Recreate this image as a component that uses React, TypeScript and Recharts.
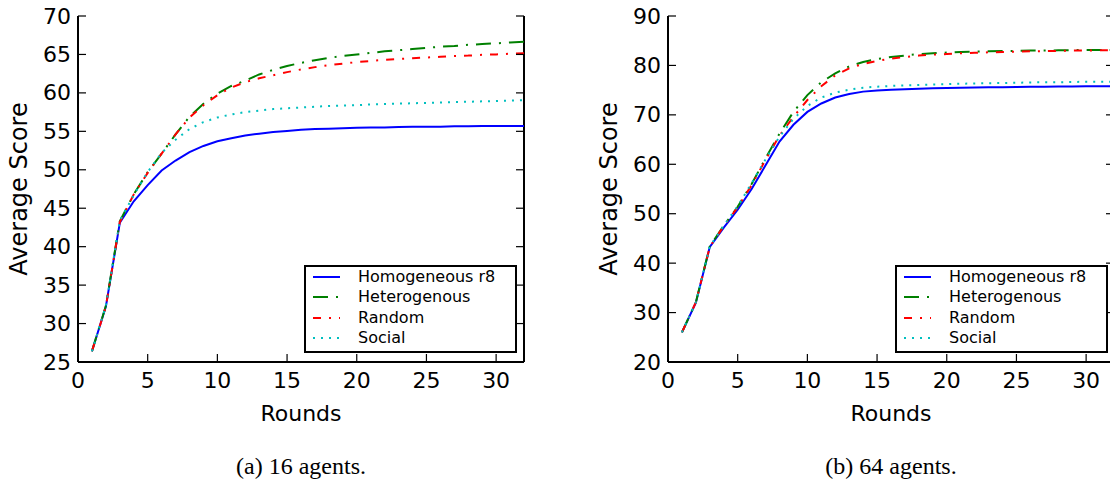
import React from "react";
import { LineChart, Line, XAxis, YAxis, Legend, ReferenceLine } from "recharts";

// rounds on the x axis
const rounds = [1, 2, 3, 4, 5, 6, 7, 8, 9, 10, 11, 12, 13, 14, 15, 16, 17, 18, 19, 20, 21, 22, 23, 24, 25, 26, 27, 28, 29, 30, 31, 32];

// (a) 16 agents
const homo16 = [26.4, 32.2, 43.1, 45.9, 48.0, 49.9, 51.2, 52.3, 53.1, 53.7, 54.1, 54.45, 54.7, 54.9, 55.05, 55.2, 55.3, 55.35, 55.4, 55.45, 55.5, 55.5, 55.55, 55.6, 55.6, 55.6, 55.65, 55.65, 55.7, 55.7, 55.7, 55.7];
const hetero16 = [26.4, 32.3, 43.3, 46.8, 49.7, 52.1, 54.6, 56.9, 58.6, 59.9, 60.9, 61.6, 62.4, 63.0, 63.5, 63.9, 64.25, 64.55, 64.8, 65.0, 65.2, 65.4, 65.55, 65.7, 65.85, 66.0, 66.1, 66.25, 66.35, 66.45, 66.55, 66.65];
const random16 = [26.4, 32.2, 43.2, 46.8, 49.6, 52.1, 54.6, 56.8, 58.4, 59.7, 60.7, 61.4, 61.9, 62.3, 62.7, 63.05, 63.35, 63.6, 63.8, 64.0, 64.15, 64.3, 64.4, 64.5, 64.6, 64.7, 64.8, 64.85, 64.95, 65.0, 65.1, 65.15];
const social16 = [26.4, 32.3, 43.4, 46.7, 49.7, 52.2, 53.9, 55.3, 56.2, 56.8, 57.2, 57.5, 57.7, 57.9, 58.0, 58.1, 58.2, 58.3, 58.35, 58.4, 58.5, 58.55, 58.6, 58.65, 58.7, 58.75, 58.8, 58.85, 58.9, 58.95, 59.0, 59.05];

// (b) 64 agents
const homo64 = [26.0, 32.0, 43.3, 47.2, 50.8, 55.0, 59.8, 64.6, 68.0, 70.6, 72.3, 73.5, 74.2, 74.7, 74.95, 75.1, 75.2, 75.3, 75.4, 75.45, 75.5, 75.55, 75.6, 75.6, 75.65, 75.7, 75.7, 75.75, 75.75, 75.8, 75.8, 75.8];
const hetero64 = [26.0, 32.1, 43.4, 47.6, 51.4, 56.0, 61.2, 66.2, 70.6, 74.0, 76.6, 78.4, 79.8, 80.7, 81.3, 81.7, 82.0, 82.3, 82.45, 82.6, 82.7, 82.8, 82.85, 82.9, 82.95, 83.0, 83.0, 83.05, 83.1, 83.1, 83.1, 83.15];
const random64 = [26.0, 32.1, 43.3, 47.5, 51.3, 55.8, 60.9, 65.8, 69.6, 73.0, 75.8, 78.0, 79.4, 80.3, 80.9, 81.4, 81.7, 82.0, 82.2, 82.3, 82.45, 82.55, 82.65, 82.7, 82.8, 82.85, 82.9, 82.95, 83.0, 83.0, 83.05, 83.1];
const social64 = [26.0, 32.1, 43.4, 47.6, 51.5, 56.2, 61.0, 65.6, 69.2, 71.8, 73.5, 74.5, 75.1, 75.5, 75.7, 75.85, 75.95, 76.05, 76.15, 76.2, 76.3, 76.35, 76.4, 76.45, 76.5, 76.55, 76.6, 76.6, 76.65, 76.7, 76.7, 76.7];

const xTicks = [0, 5, 10, 15, 20, 25, 30];
const yTicks16 = [25, 30, 35, 40, 45, 50, 55, 60, 65, 70];
const yTicks64 = [20, 30, 40, 50, 60, 70, 80, 90];

const seriesKeys = ["homo", "hetero", "random", "social"];
const seriesNames = ["Homogeneous r8", "Heterogenous", "Random", "Social"];
const seriesColors = ["#0000ff", "#008000", "#ff0000", "#00bfbf"];
const seriesDashes = [undefined, "15 8 2 8", "8 8 2 8", "2 6"];

const PLOT_W = 446;
const FONT = "'DejaVu Sans', sans-serif";

const build = (h: number[], he: number[], r: number[], s: number[]) =>
  rounds.map((round, i) => ({ round, homo: h[i], hetero: he[i], random: r[i], social: s[i] }));

const data16 = build(homo16, hetero16, random16, social16);
const data64 = build(homo64, hetero64, random64, social64);

// matplotlib-style inward ticks on left + right spines
const YTick = (props: any) => {
  const { x, y, payload } = props;
  return (
    <g>
      <line x1={x} x2={x + 8} y1={y} y2={y} stroke="#000" strokeWidth={1.2} />
      <line x1={x + PLOT_W - 8} x2={x + PLOT_W} y1={y} y2={y} stroke="#000" strokeWidth={1.2} />
      <text x={x - 7} y={y} textAnchor="end" dominantBaseline="central" fontSize={22} fontFamily={FONT} fill="#000">
        {payload.value}
      </text>
    </g>
  );
};

const XTick = (props: any) => {
  const { x, y, payload } = props;
  return (
    <g>
      <line x1={x} x2={x} y1={y} y2={y - 8} stroke="#000" strokeWidth={1.2} />
      <text x={x} y={y + 18} textAnchor="middle" dominantBaseline="central" fontSize={22} fontFamily={FONT} fill="#000">
        {payload.value}
      </text>
    </g>
  );
};

// boxed legend, kept in series order
const renderLegend = (props: any) => {
  const items = [...(props.payload || [])].sort(
    (a: any, b: any) => seriesKeys.indexOf(a.dataKey) - seriesKeys.indexOf(b.dataKey)
  );
  return (
    <div
      style={{
        position: "relative",
        width: 213,
        height: 88,
        boxSizing: "border-box",
        border: "2px solid #000",
        background: "#fff",
        fontFamily: FONT,
        fontSize: 16,
        color: "#000",
      }}
    >
      {items.map((entry: any, i: number) => {
        const k = seriesKeys.indexOf(entry.dataKey);
        return (
          <div key={i} style={{ position: "absolute", left: 0, top: -0.5 + 20.5 * i, height: 20.5, display: "flex", alignItems: "center" }}>
            <svg width={52} height={20}>
              <line x1={7} x2={34} y1={10} y2={10} stroke={seriesColors[k]} strokeWidth={2} strokeDasharray={seriesDashes[k]} />
            </svg>
            <span style={{ lineHeight: 1, whiteSpace: "nowrap" }}>{entry.value}</span>
          </div>
        );
      })}
    </div>
  );
};

interface PanelProps {
  data: any[];
  yDomain: [number, number];
  yTicks: number[];
  left: number;
  width: number;
  marginLeft: number;
  legendLeft: number;
  caption: string;
}

const Panel: React.FC<PanelProps> = ({ data, yDomain, yTicks, left, width, marginLeft, legendLeft, caption }) => {
  const center = marginLeft + PLOT_W / 2;
  return (
    <div style={{ position: "absolute", left, top: 0, width, height: 491 }}>
      <LineChart
        width={width}
        height={491}
        data={data}
        margin={{ top: 16, right: width - marginLeft - PLOT_W, bottom: 128, left: marginLeft - 1 }}
      >
        <XAxis
          dataKey="round"
          type="number"
          domain={[0, 32]}
          ticks={xTicks}
          interval={0}
          height={1}
          tickSize={0}
          tickMargin={0}
          tick={<XTick />}
          axisLine={{ stroke: "#000", strokeWidth: 2 }}
          label={(p: any) => (
            <text
              x={p.viewBox.x + p.viewBox.width / 2}
              y={p.viewBox.y + 59}
              textAnchor="middle"
              fontSize={22}
              fontFamily={FONT}
              fill="#000"
            >
              Rounds
            </text>
          )}
        />
        <YAxis
          type="number"
          domain={yDomain}
          ticks={yTicks}
          interval={0}
          width={1}
          tickSize={0}
          tickMargin={0}
          tick={<YTick />}
          axisLine={{ stroke: "#000", strokeWidth: 2 }}
          label={(p: any) => {
            const cx = p.viewBox.x + p.viewBox.width - 51;
            const cy = p.viewBox.y + p.viewBox.height / 2;
            return (
              <text x={cx} y={cy} transform={`rotate(-90 ${cx} ${cy})`} textAnchor="middle" fontSize={24} fontFamily={FONT} fill="#000">
                Average Score
              </text>
            );
          }}
        />
        <ReferenceLine x={32} stroke="#000" strokeWidth={2} />
        {seriesKeys.map((key, i) => (
          <Line
            key={key}
            type="linear"
            dataKey={key}
            name={seriesNames[i]}
            stroke={seriesColors[i]}
            strokeWidth={2}
            strokeDasharray={seriesDashes[i]}
            dot={false}
            activeDot={false}
            isAnimationActive={false}
          />
        ))}
        <Legend
          layout="vertical"
          align="center"
          verticalAlign="middle"
          wrapperStyle={{ left: legendLeft, top: 265, width: 213, height: 88 }}
          content={renderLegend}
        />
      </LineChart>
      <div
        style={{
          position: "absolute",
          left: center - 150,
          width: 300,
          top: 453,
          textAlign: "center",
          fontFamily: "'Liberation Serif', serif",
          fontSize: 24,
          lineHeight: "26px",
          color: "#000",
        }}
      >
        {caption}
      </div>
    </div>
  );
};

export default function App() {
  return (
    <div style={{ position: "absolute", left: 0, top: 0, width: 1110, height: 491, overflow: "hidden", background: "#fff" }}>
      <Panel data={data16} yDomain={[25, 70]} yTicks={yTicks16} left={0} width={540} marginLeft={78} legendLeft={304} caption="(a) 16 agents." />
      <Panel data={data64} yDomain={[20, 90]} yTicks={yTicks64} left={580} width={550} marginLeft={88} legendLeft={315} caption="(b) 64 agents." />
    </div>
  );
}
